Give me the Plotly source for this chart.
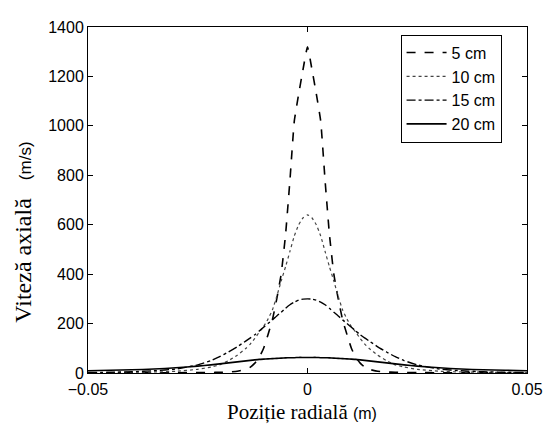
import plotly.graph_objects as go

# radial position (m), symmetric about 0
x_half = [0, 0.001, 0.002, 0.003, 0.004, 0.005, 0.006, 0.007, 0.008, 0.009,
          0.010, 0.011, 0.012, 0.013, 0.014, 0.016, 0.018, 0.020, 0.022,
          0.025, 0.030, 0.035, 0.040, 0.045, 0.050]

v_5cm = [1320, 1230, 1130, 1020, 780, 560, 400, 300, 215, 155,
         100, 63, 40, 24, 15, 7, 4, 3, 2, 2, 1, 1, 1, 0, 0]
v_10cm = [640, 628, 600, 555, 492, 430, 372, 310, 255, 218,
          188, 165, 140, 118, 100, 72, 50, 33, 24, 15, 7, 4, 3, 2, 1]
v_15cm = [300, 299, 295, 287, 276, 262, 246, 231, 215, 200,
          185, 170, 155, 142, 130, 106, 85, 66, 50, 33, 16, 9, 5, 3, 2]
v_20cm = [63, 63, 63, 62, 62, 61, 60, 59, 58, 57,
          56, 55, 53, 51, 49, 45, 41, 37, 33, 28, 21, 16, 13, 11, 9]

labels = ['5 cm', '10 cm', '15 cm', '20 cm']
styles = [('dash', 1.6, 'black'), ('dot', 1.2, '#444'),
          ('dashdot', 1.4, 'black'), ('solid', 1.6, 'black')]


def mirror(half):
    return half[:0:-1] + half


x = [-v for v in x_half[:0:-1]] + x_half

fig = go.Figure()
for name, vals, (dash, w, col) in zip(labels, [v_5cm, v_10cm, v_15cm, v_20cm], styles):
    fig.add_trace(go.Scatter(
        x=x, y=mirror(vals), mode='lines', name=name,
        line=dict(dash=dash, width=w, color=col, shape='spline', smoothing=0.4)
    ))

axis_style = dict(showline=True, linecolor='black', linewidth=1, mirror='ticks',
                  ticks='inside', ticklen=5, tickcolor='black', showgrid=False,
                  zeroline=False, tickfont=dict(size=16, color='black'))

fig.update_xaxes(range=[-0.05, 0.05], tickvals=[-0.05, 0, 0.05],
                 ticktext=['\u22120.05', '0', '0.05'], ticklabelstandoff=2,
                 **axis_style)
fig.update_yaxes(range=[0, 1400], dtick=200, **axis_style)

# page body has an 8px margin, so the figure is 8px smaller and margins shifted
fig.update_layout(
    width=546, height=416,
    margin=dict(l=80, r=18, t=11, b=51),
    plot_bgcolor='white', paper_bgcolor='white',
    font=dict(family='Liberation Sans', color='black'),
    legend=dict(x=0.712, y=0.978, xanchor='left', yanchor='top',
                bordercolor='black', borderwidth=1, bgcolor='white',
                font=dict(size=16), tracegroupgap=0, itemwidth=40),
    annotations=[
        dict(text='Viteză axială&nbsp;&nbsp;&nbsp;<span style="font-family:Liberation Sans;font-size:17px">(m/s)</span>',
             xref='paper', yref='paper', x=-0.147, y=0.407, textangle=-90,
             showarrow=False, xanchor='center', yanchor='middle',
             font=dict(family='Liberation Serif', size=24, color='black')),
        dict(text='Poziție radială <span style="font-family:Liberation Sans;font-size:16px">(m)</span>',
             xref='paper', yref='paper', x=0.487, y=-0.114,
             showarrow=False, xanchor='center', yanchor='middle',
             font=dict(family='Liberation Serif', size=21, color='black')),
    ],
)

fig.write_html("out.html")
